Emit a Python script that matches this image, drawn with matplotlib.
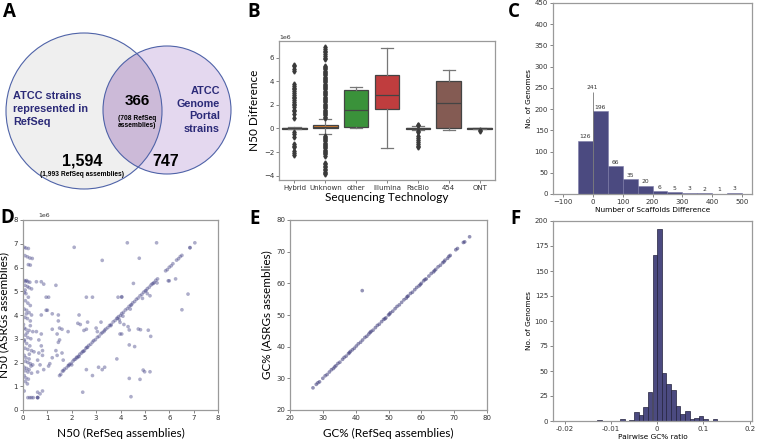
import numpy as np
import matplotlib
matplotlib.use('Agg')
import matplotlib.pyplot as plt
from matplotlib.patches import Circle

# ---------------- DATA ----------------
# Panel A (Venn)
venn_left_only = 1594
venn_left_assemblies = 1993
venn_both = 366
venn_both_assemblies = 708
venn_right_only = 747
venn_left_label = "ATCC strains\nrepresented in\nRefSeq"
venn_right_label = "ATCC\nGenome\nPortal\nstrains"

# Panel B (box plots, values in 1e6)
tech_names = ["Hybrid", "Unknown", "other", "Illumina", "PacBio", "454", "ONT"]
tech_q1 = [-0.02, 0.0, 0.14, 1.65, -0.03, 0.03, -0.02]
tech_med = [0.0, 0.12, 1.56, 2.87, 0.0, 2.19, 0.0]
tech_q3 = [0.03, 0.30, 3.27, 4.49, 0.03, 3.98, 0.02]
tech_whislo = [-0.08, -0.48, 0.0, -1.62, -0.15, -0.14, -0.08]
tech_whishi = [0.08, 0.76, 3.55, 6.85, 0.2, 4.91, 0.05]
fliers_hybrid = [5.4, 5.25, 5.0, 4.85, 3.75, 3.6, 3.45, 3.3, 3.15, 3.0, 2.85, 2.7, 2.55,
                 2.4, 2.25, 2.1, 1.95, 1.8, 1.6, 1.45, 1.2, 0.9, -0.3, -0.5, -0.75,
                 -1.3, -1.45, -1.6, -1.95, -2.1, -2.25]
fliers_unknown = [0.9, 1.0, 1.1, 1.2, 1.3, 1.4, 1.5, 1.6, 1.7, 1.8, 1.9, 2.0, 2.1, 2.2,
                  2.3, 2.4, 2.5, 2.6, 2.7, 2.8, 2.9, 3.0, 3.1, 3.2, 3.3, 3.4, 3.5, 3.6,
                  3.7, 3.8, 3.9, 4.0, 4.1, 4.2, 4.3, 4.4, 4.5, 4.6, 4.7, 4.8, 4.9, 5.0,
                  5.1, 5.2, 5.3, 5.85, 6.0, 6.15, 6.3, 6.45, 6.6, 6.75, 6.9,
                  -0.6, -0.7, -0.8, -0.9, -1.0, -1.1, -1.2, -1.3, -1.4, -1.5, -1.6,
                  -1.7, -1.8, -1.9, -2.0, -2.1, -2.2, -2.35, -2.9, -3.0, -3.15, -3.3,
                  -3.45, -3.55, -3.7, -3.8, -3.9]
fliers_other = []
fliers_illumina = []
fliers_pacbio = [0.25, 0.3, -0.2, -0.3, -0.65, -0.8, -1.0, -1.15, -1.3, -1.45, -1.55]
fliers_454 = []
fliers_ont = [-0.15, -0.2]

# Panel C (histogram of scaffold differences)
scaf_bin_left = [-50, 0, 50, 100, 150, 200, 250, 300, 350, 400, 450]
scaf_counts = [126, 196, 66, 35, 20, 6, 5, 3, 2, 1, 3]
scaf_zero_count = 241

# Panel D (N50 scatter, 1e6)
d_left_x = [0.05, 0.12, 0.22, 0.08, 0.18, 0.28, 0.38, 0.22, 0.30, 0.05, 0.10, 0.15, 0.20,
            0.28, 0.08, 0.18, 0.25, 0.35, 0.05, 0.12, 0.22, 0.10, 0.20, 0.30, 0.05, 0.15,
            0.25, 0.35, 0.08, 0.18, 0.30, 0.05, 0.12, 0.25, 0.40, 0.10, 0.20, 0.32, 0.05,
            0.15, 0.28, 0.08, 0.20, 0.35, 0.45, 0.05, 0.12, 0.25, 0.10, 0.20, 0.30, 0.40,
            0.05, 0.15, 0.25, 0.08, 0.20, 0.35, 0.05, 0.12, 0.22, 0.10, 0.18, 0.05, 0.20,
            0.28, 0.35, 0.42, 0.02, 0.30, 0.14, 0.26, 0.06, 0.33, 0.17, 0.09]
d_left_y = [6.85, 6.82, 6.80, 6.50, 6.45, 6.40, 6.38, 6.12, 6.10, 5.45, 5.42, 5.45, 5.40,
            5.38, 5.25, 5.20, 5.15, 5.10, 4.95, 4.90, 4.75, 4.60, 4.50, 4.40, 4.25, 4.20,
            4.10, 4.00, 3.90, 3.85, 3.75, 3.45, 3.40, 3.35, 3.30, 3.15, 3.05, 3.00, 2.90,
            2.80, 2.70, 2.60, 2.55, 2.50, 2.45, 2.30, 2.20, 2.15, 2.05, 2.00, 1.95, 1.90,
            1.80, 1.75, 1.70, 1.65, 1.60, 1.55, 1.45, 1.35, 1.30, 1.20, 1.10, 0.80, 0.52,
            0.52, 0.52, 0.52, 3.60, 3.55, 4.05, 2.35, 2.95, 1.85, 3.25, 5.05]
d_mid_x = [0.55, 0.75, 0.85, 0.95, 1.05, 0.95, 1.00, 0.75, 0.55, 0.75, 0.65, 0.75, 0.80,
           0.65, 0.80, 0.60, 0.70, 0.85, 0.60, 0.60, 0.60, 0.80, 0.70,
           1.35, 1.20, 1.45, 1.45, 1.20, 1.50, 1.60, 1.40, 1.85, 1.50, 1.45, 1.35, 1.60,
           1.20, 1.40, 1.10, 1.05, 1.65, 2.10, 2.45, 2.60,
           2.30, 2.25, 2.35, 2.60, 2.85, 2.65, 2.60, 2.50, 3.25, 3.10, 2.85, 3.25, 3.35,
           3.20, 3.00, 3.05, 3.90, 4.05, 3.95, 4.05, 3.85]
d_mid_y = [5.40, 5.40, 5.30, 4.75, 4.75, 4.20, 4.20, 4.00, 3.30, 3.20, 2.95, 2.70, 2.50,
           2.40, 2.30, 2.10, 1.90, 1.70, 1.60, 0.52, 0.75, 0.80, 0.68,
           5.25, 4.05, 4.00, 3.75, 3.40, 3.45, 3.40, 3.20, 3.30, 2.95, 2.85, 2.50, 2.40,
           2.20, 2.30, 1.95, 1.85, 2.10, 6.85, 0.75, 1.70,
           4.00, 3.65, 3.60, 4.75, 4.75, 3.70, 3.40, 3.35, 6.30, 1.80, 1.45, 1.70, 1.80,
           3.70, 3.45, 3.30, 4.75, 4.75, 3.80, 3.20, 2.15]
d_right_x = [4.28, 5.48, 7.05, 4.77, 5.96, 6.00, 6.26, 6.77, 6.52, 4.53, 4.05, 5.21, 4.31,
             4.36, 4.14, 4.73, 4.82, 5.14, 5.24, 4.36, 4.58, 4.93, 4.99, 5.21, 4.80, 4.36,
             4.43, 3.98, 3.98]
d_right_y = [7.04, 7.04, 7.04, 6.39, 5.44, 5.44, 5.52, 4.88, 4.22, 5.33, 4.77, 4.81, 3.51,
             3.37, 3.60, 3.41, 3.38, 3.36, 3.10, 2.74, 2.67, 1.68, 1.61, 1.61, 1.29, 1.33,
             0.56, 3.69, 3.20]
d_diag_x = [1.62, 1.66, 1.70, 1.78, 1.85, 1.90, 1.97, 2.05, 2.10, 2.15, 2.20, 2.27, 2.33,
            2.40, 2.45, 2.52, 2.58, 2.65, 2.70, 2.78, 2.85, 2.90, 2.97, 3.05, 3.12, 3.20,
            3.25, 3.32, 3.40, 3.48, 3.55, 3.62, 3.70, 3.78, 3.85, 3.92, 4.00, 4.05, 4.12,
            4.20, 4.28, 4.35, 4.42, 4.50, 4.58, 4.65, 4.72, 4.80, 4.88, 4.95, 5.02, 5.10,
            5.18, 5.25, 5.30, 5.38, 5.45, 5.52, 5.85, 5.92, 6.00, 6.08, 6.15, 6.30, 6.38,
            6.45, 6.52, 6.85, 6.85, 0.60, 0.60, 1.50, 1.55, 2.00, 2.30, 3.60, 4.10, 4.40,
            4.90, 5.10, 5.50, 2.22, 2.62, 3.35, 3.88, 4.45, 5.05, 5.35, 1.88, 2.48]
d_diag_y = [1.64, 1.65, 1.72, 1.77, 1.86, 1.92, 1.96, 2.06, 2.12, 2.14, 2.22, 2.26, 2.35,
            2.40, 2.46, 2.50, 2.60, 2.64, 2.72, 2.77, 2.86, 2.92, 2.96, 3.06, 3.10, 3.21,
            3.26, 3.30, 3.41, 3.47, 3.56, 3.60, 3.71, 3.77, 3.86, 3.93, 3.98, 4.06, 4.11,
            4.21, 4.27, 4.36, 4.41, 4.51, 4.57, 4.66, 4.71, 4.81, 4.87, 4.96, 5.01, 5.11,
            5.17, 5.26, 5.31, 5.37, 5.46, 5.52, 5.86, 5.91, 6.01, 6.07, 6.16, 6.31, 6.37,
            6.46, 6.51, 6.83, 6.84, 0.52, 0.53, 1.45, 1.50, 1.90, 2.25, 3.55, 3.95, 4.25,
            4.70, 4.90, 5.35, 2.20, 2.64, 3.36, 3.86, 4.43, 5.03, 5.33, 1.87, 2.47]

# Panel E (GC% scatter)
e_x = [27.0, 28.0, 28.5, 29.0, 30.0, 30.7, 31.3, 32.0, 32.6, 33.2, 34.0, 34.6, 35.2, 36.0,
       36.5, 37.1, 37.8, 38.4, 39.0, 39.6, 40.2, 40.8, 41.5, 42.1, 42.8, 43.4, 44.0, 44.7,
       45.3, 46.0, 46.6, 47.2, 47.9, 48.5, 49.2, 50.0, 50.6, 51.3, 52.0, 52.6, 53.3, 54.0,
       54.7, 55.4, 56.0, 56.7, 57.3, 58.0, 58.6, 59.3, 60.0, 60.7, 61.5, 62.3, 63.0, 63.7,
       64.4, 65.1, 65.8, 66.5, 67.2, 68.0, 68.8, 70.5, 71.0, 72.8, 73.2, 74.7, 42.0, 33.6,
       38.1, 44.4, 48.9, 50.3, 55.7, 59.7, 61.1, 64.0, 66.9, 68.4]
e_y = [27.0, 28.1, 28.6, 28.9, 30.0, 30.8, 31.2, 32.0, 32.7, 33.1, 34.0, 34.7, 35.1, 36.0,
       36.6, 37.0, 37.8, 38.5, 39.0, 39.5, 40.2, 40.9, 41.4, 42.1, 42.9, 43.3, 44.0, 44.8,
       45.2, 46.0, 46.7, 47.1, 47.9, 48.6, 49.1, 50.0, 50.7, 51.2, 52.0, 52.7, 53.2, 54.0,
       54.8, 55.3, 56.0, 56.8, 57.2, 58.0, 58.7, 59.2, 60.0, 60.8, 61.4, 62.3, 63.1, 63.6,
       64.4, 65.2, 65.7, 66.5, 67.3, 67.9, 68.8, 70.6, 71.0, 72.9, 73.1, 74.7, 57.7, 33.6,
       38.1, 44.5, 48.8, 50.3, 55.8, 59.6, 61.2, 64.0, 66.8, 68.5]

# Panel F (histogram of pairwise GC% ratio; axis positions as drawn)
gc_bin_left = [-0.13, -0.08, -0.06, -0.05, -0.04, -0.03, -0.02, -0.01, 0.00, 0.01, 0.02,
               0.03, 0.04, 0.05, 0.06, 0.07, 0.08, 0.09, 0.10, 0.12]
gc_counts = [1, 2, 1, 9, 6, 14, 29, 166, 192, 48, 37, 31, 15, 7, 10, 2, 3, 5, 2, 2]
gc_tick_pos = [-0.2, -0.1, 0.0, 0.1, 0.2]
gc_tick_labels = ["-0.02", "-0.01", "0", "0.1", "0.2"]

# ---------------- STYLE ----------------
W, H = 760, 443
fig = plt.figure(figsize=(7.6, 4.43), dpi=100)
NAVY = '#4b4a80'
SPINE = '#9a9a9a'
LABEL_FONT = ['Lato', 'DejaVu Sans']


def rect(l, t, r, b):
    return [l / W, 1 - b / H, (r - l) / W, (b - t) / H]


def style_axes(ax, fs=5):
    for s in ax.spines.values():
        s.set_color(SPINE)
        s.set_linewidth(0.9)
    ax.tick_params(length=2, width=0.5, color='#555555', labelsize=fs,
                   labelcolor='#333333', pad=1.5)


def panel_letter(x, y, s):
    fig.text(x / W, 1 - y / H, s, fontsize=13.5, fontweight='bold',
             family=['Open Sans', 'DejaVu Sans'], va='top', ha='left')


# ---------------- A: Venn ----------------
axA = fig.add_axes(rect(0, 0, 245, 215))
axA.set_xlim(0, 245)
axA.set_ylim(215, 0)
axA.axis('off')
cl = Circle((84, 111), 78, fc='#efefef', ec='none')
cr = Circle((167, 110), 64, fc='#e4d8ef', ec='none')
axA.add_patch(cl)
axA.add_patch(cr)
inter = Circle((167, 110), 64, fc='#ccbad8', ec='none')
axA.add_patch(inter)
clip = Circle((84, 111), 78, transform=axA.transData)
inter.set_clip_path(clip)
axA.add_patch(Circle((84, 111), 78, fill=False, ec='#4f63a8', lw=0.8))
axA.add_patch(Circle((167, 110), 64, fill=False, ec='#4f63a8', lw=0.8))
vfont = ['Liberation Sans', 'DejaVu Sans']
axA.text(13, 109, venn_left_label, fontsize=7.8, fontweight='bold', color='#2b2a78',
         family=vfont, ha='left', va='center', linespacing=1.35)
axA.text(220, 110, venn_right_label, fontsize=7.8, fontweight='bold', color='#2b2a78',
         family=vfont, ha='right', va='center', linespacing=1.35)
axA.text(137, 101, f"{venn_both}", fontsize=11, fontweight='bold', family=vfont,
         ha='center', va='center')
axA.text(137, 122, f"({venn_both_assemblies} RefSeq\nassemblies)", fontsize=4.8,
         fontweight='bold', family=vfont, ha='center', va='center', linespacing=1.05)
axA.text(82, 161, f"{venn_left_only:,}", fontsize=11.5, fontweight='bold', family=vfont,
         ha='center', va='center')
axA.text(82, 175, f"({venn_left_assemblies:,} RefSeq assemblies)", fontsize=4.8,
         fontweight='bold', family=vfont, ha='center', va='center')
axA.text(166, 161, f"{venn_right_only}", fontsize=11.5, fontweight='bold', family=vfont,
         ha='center', va='center')

# ---------------- B: boxplots ----------------
axB = fig.add_axes(rect(279, 41, 495, 180))
box_colors = ['#3274a1', '#e1812c', '#3a923a', '#c03d3e', '#9372b2', '#845b53', '#d684bd']
all_fliers = [fliers_hybrid, fliers_unknown, fliers_other, fliers_illumina,
              fliers_pacbio, fliers_454, fliers_ont]
stats = []
for i, name in enumerate(tech_names):
    stats.append(dict(label=name, med=tech_med[i], q1=tech_q1[i], q3=tech_q3[i],
                      whislo=tech_whislo[i], whishi=tech_whishi[i],
                      fliers=all_fliers[i]))
bp = axB.bxp(stats, positions=range(len(tech_names)), widths=0.8, patch_artist=True,
             capwidths=0.4,
             boxprops=dict(edgecolor='#444444', linewidth=0.9),
             whiskerprops=dict(color='#777777', linewidth=0.9),
             capprops=dict(color='#777777', linewidth=0.9),
             medianprops=dict(color='#444444', linewidth=0.9),
             flierprops=dict(marker='d', markerfacecolor='#3a3a3a',
                             markeredgecolor='#3a3a3a', markersize=2.6, linestyle='none'))
for patch, c in zip(bp['boxes'], box_colors):
    patch.set_facecolor(c)
axB.set_xlim(-0.5, 6.5)
axB.set_ylim(-4.37, 7.41)
axB.set_yticks([-4, -2, 0, 2, 4, 6])
style_axes(axB, 5)
axB.set_ylabel("N50 Difference", fontsize=8.5, family=LABEL_FONT, labelpad=3)
axB.set_xlabel("Sequencing Technology", fontsize=8.5, family=LABEL_FONT, labelpad=1)
axB.text(0.0, 1.01, "1e6", transform=axB.transAxes, fontsize=4.5, color='#333333',
         va='bottom', ha='left')

# ---------------- C: histogram ----------------
axC = fig.add_axes(rect(553, 3, 752, 194))
axC.bar(scaf_bin_left, scaf_counts, width=50, align='edge', color=NAVY,
        edgecolor='#7b79a6', linewidth=0.4)
axC.vlines(0, 0, scaf_zero_count, color='#777777', linewidth=0.6)
for xl, c in zip(scaf_bin_left, scaf_counts):
    axC.text(xl + 25, c + 3, str(c), fontsize=4.3, ha='center', va='bottom',
             color='#333333')
axC.text(0, scaf_zero_count + 3, str(scaf_zero_count), fontsize=4.3, ha='center',
         va='bottom', color='#333333')
axC.set_xlim(-133, 533)
axC.set_ylim(0, 450)
axC.set_xticks([-100, 0, 100, 200, 300, 400, 500])
axC.set_yticks(range(0, 451, 50))
style_axes(axC, 5)
axC.set_ylabel("No. of Genomes", fontsize=5.3, labelpad=2)
axC.set_xlabel("Number of Scaffolds Difference", fontsize=5.3, labelpad=1.5)

# ---------------- D: N50 scatter ----------------
axD = fig.add_axes(rect(23, 220, 218, 410))
SC = '#4b4a8a'
for xs, ys in [(d_left_x, d_left_y), (d_mid_x, d_mid_y), (d_right_x, d_right_y),
               (d_diag_x, d_diag_y)]:
    axD.scatter(xs, ys, s=7, color=SC, alpha=0.45, edgecolors='none')
axD.set_xlim(0, 8)
axD.set_ylim(0, 8)
axD.set_xticks(range(0, 9))
axD.set_yticks(range(0, 9))
style_axes(axD, 5)
axD.set_ylabel("N50 (ASRGs assemblies)", fontsize=8.5, family=LABEL_FONT, labelpad=3)
axD.set_xlabel("N50 (RefSeq assemblies)", fontsize=8.5, family=LABEL_FONT, labelpad=5)
axD.text(0.08, 1.01, "1e6", transform=axD.transAxes, fontsize=4.5, color='#333333',
         va='bottom', ha='left')

# ---------------- E: GC scatter ----------------
axE = fig.add_axes(rect(290, 220, 487, 410))
axE.scatter(e_x, e_y, s=7, color='#3d3b7a', alpha=0.55, edgecolors='none')
axE.set_xlim(20, 80)
axE.set_ylim(20, 80)
axE.set_xticks(range(20, 81, 10))
axE.set_yticks(range(20, 81, 10))
style_axes(axE, 5)
axE.set_ylabel("GC% (ASRGs assemblies)", fontsize=8.5, family=LABEL_FONT, labelpad=3)
axE.set_xlabel("GC% (RefSeq assemblies)", fontsize=8.5, family=LABEL_FONT, labelpad=5)

# ---------------- F: GC ratio histogram ----------------
axF = fig.add_axes(rect(553, 221, 752, 421))
axF.bar(gc_bin_left, gc_counts, width=0.01, align='edge', color=NAVY,
        edgecolor='#23223d', linewidth=0.5)
axF.set_xlim(-0.225, 0.205)
axF.set_ylim(0, 200)
axF.set_xticks(gc_tick_pos)
axF.set_xticklabels(gc_tick_labels)
axF.set_yticks(range(0, 201, 25))
style_axes(axF, 5)
axF.set_ylabel("No. of Genomes", fontsize=5.3, labelpad=2)
axF.set_xlabel("Pairwise GC% ratio", fontsize=5.3, labelpad=1.5)

# ---------------- panel letters ----------------
panel_letter(3, 2, "A")
panel_letter(247, 2, "B")
panel_letter(508, 2, "C")
panel_letter(0, 208, "D")
panel_letter(249, 209, "E")
panel_letter(510, 209, "F")

fig.savefig("out.png", dpi=100)
